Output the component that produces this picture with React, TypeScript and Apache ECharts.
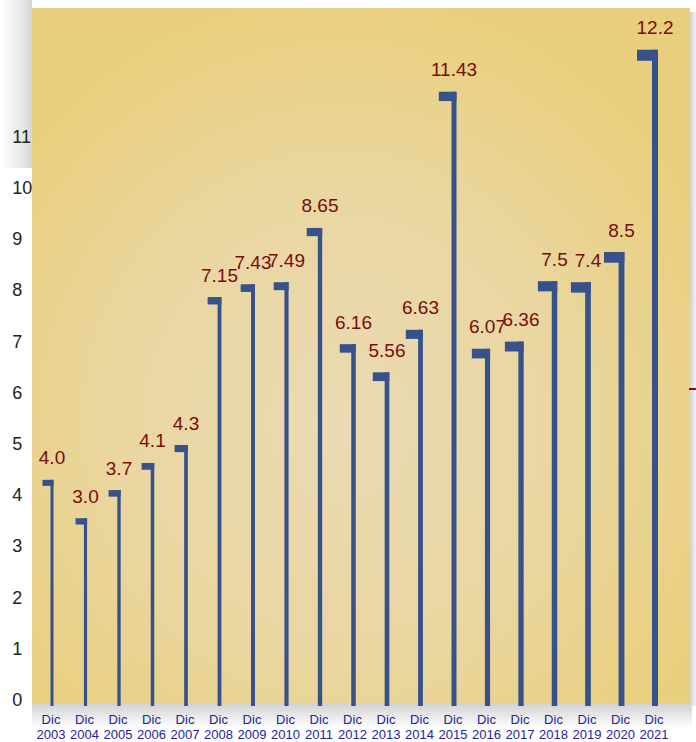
import React, { useEffect, useRef } from "react";
import * as echarts from "echarts";

const categories = [
  "Dic\n2003", "Dic\n2004", "Dic\n2005", "Dic\n2006", "Dic\n2007", "Dic\n2008", "Dic\n2009",
  "Dic\n2010", "Dic\n2011", "Dic\n2012", "Dic\n2013", "Dic\n2014", "Dic\n2015", "Dic\n2016",
  "Dic\n2017", "Dic\n2018", "Dic\n2019", "Dic\n2020", "Dic\n2021",
];
// bar heights as drawn against the axis
const barLevels = [4.3, 3.55, 4.1, 4.63, 4.98, 7.87, 8.12, 8.16, 9.22, 6.95, 6.4, 7.23, 11.88, 6.86, 7.0, 8.18, 8.16, 8.75, 12.7];
// printed value labels
const valueLabels = ["4.0", "3.0", "3.7", "4.1", "4.3", "7.15", "7.43", "7.49", "8.65", "6.16", "5.56", "6.63", "11.43", "6.07", "6.36", "7.5", "7.4", "8.5", "12.2"];
const yTicks = [0, 1, 2, 3, 4, 5, 6, 7, 8, 9, 10, 11];

const BAR = "#37518a";

export default function App() {
  const ref = useRef<HTMLDivElement>(null);
  useEffect(() => {
    if (!ref.current) return;
    const chart = echarts.init(ref.current, undefined, { renderer: "svg" });
    const n = categories.length;
    chart.setOption({
      animation: false,
      backgroundColor: "#ffffff",
      textStyle: { fontFamily: "Liberation Sans, Arial, sans-serif" },
      graphic: [
        {
          type: "rect", z: -10, silent: true,
          shape: { x: 0, y: 0, width: 32, height: 168 },
          style: {
            fill: new echarts.graphic.LinearGradient(0, 0, 1, 0, [
              { offset: 0, color: "#ffffff" },
              { offset: 0.7, color: "#e6e6e6" },
              { offset: 1, color: "#d6d6d6" },
            ]),
          },
        },
        {
          type: "rect", z: -10, silent: true,
          shape: { x: 32, y: 702, width: 660, height: 26 },
          style: {
            fill: new echarts.graphic.LinearGradient(0, 0, 0, 1, [
              { offset: 0, color: "#cfcfcf" },
              { offset: 1, color: "#ffffff" },
            ]),
          },
        },
        {
          type: "rect", z: -10, silent: true,
          shape: { x: 689, y: 12, width: 7, height: 694 },
          style: {
            fill: new echarts.graphic.LinearGradient(0, 0, 1, 0, [
              { offset: 0, color: "#cccccc" },
              { offset: 1, color: "#f2f2f2" },
            ]),
          },
        },
        {
          type: "rect", z: -9, silent: true,
          shape: { x: 32, y: 8, width: 658, height: 695 },
          style: {
            fill: new echarts.graphic.RadialGradient(0.47, 0.6, 0.62, [
              { offset: 0, color: "#ebdab4" },
              { offset: 0.55, color: "#ead6a0" },
              { offset: 1, color: "#e9cf7d" },
            ]),
          },
        },
        {
          type: "line", z: -8, silent: true,
          shape: { x1: 689, y1: 389, x2: 696, y2: 389 },
          style: { stroke: "#7a1010", lineWidth: 2 },
        },
      ],
      grid: {
        left: 34.25, right: 25.25, top: 34.4, bottom: 42,
        containLabel: false,
        outerBoundsMode: "none",
      },
      xAxis: {
        type: "category",
        data: categories,
        boundaryGap: true,
        axisLine: { show: false },
        axisTick: { show: false },
        axisLabel: {
          margin: 12,
          color: "#24249a",
          fontSize: 13,
          lineHeight: 15,
          interval: 0,
        },
      },
      yAxis: {
        type: "value",
        min: 0,
        max: 13,
        interval: 1,
        splitLine: { show: false },
        axisLine: { show: false },
        axisTick: { show: false },
        axisLabel: {
          align: "left",
          margin: 22,
          color: "#222222",
          fontSize: 18,
          formatter: (v: number) => (yTicks.indexOf(v) >= 0 ? String(v) : ""),
        },
      },
      series: [
        {
          type: "custom",
          data: barLevels.map((v, i) => [i, v]),
          renderItem: (params: any, api: any) => {
            const i = params.dataIndex;
            const top = api.coord([api.value(0), api.value(1)]);
            const base = api.coord([api.value(0), 0]);
            const t = i / (n - 1);
            const sw = 3 + 3 * t;
            const fw = 11 + 10 * t;
            const fh = 6 + 5 * t;
            const xr = top[0] + sw / 2 + 1;
            return {
              type: "group",
              children: [
                {
                  type: "rect",
                  shape: { x: xr - sw, y: top[1], width: sw, height: base[1] - top[1] + 6 },
                  style: { fill: BAR },
                },
                {
                  type: "rect",
                  shape: { x: xr - fw, y: top[1], width: fw, height: fh },
                  style: { fill: BAR },
                },
                {
                  type: "text",
                  x: top[0] + 1,
                  y: top[1] - 22,
                  style: {
                    text: valueLabels[i],
                    fill: "#7a0c0c",
                    fontSize: 19,
                    fontFamily: "Liberation Sans, Arial, sans-serif",
                    align: "center",
                    verticalAlign: "middle",
                  },
                },
              ],
            };
          },
        },
      ],
    });
    return () => chart.dispose();
  }, []);
  return (
    <div
      ref={ref}
      style={{ position: "fixed", left: 0, top: 0, width: 696, height: 742 }}
    />
  );
}
